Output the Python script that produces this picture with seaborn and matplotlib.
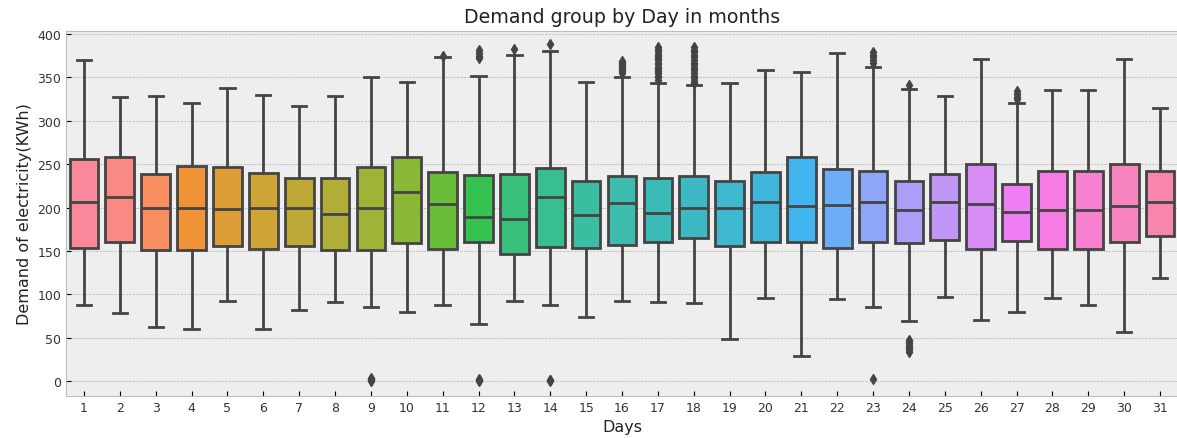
import numpy as np
import pandas as pd
import matplotlib
matplotlib.use("Agg")
import matplotlib.pyplot as plt
import seaborn as sns

days = [str(d) for d in range(1, 32)]

whisker_low = [88, 79, 63, 60, 93, 60, 82, 91, 86, 80,
               88, 66, 93, 88, 74, 93, 91, 90, 49, 96,
               29, 95, 85, 69, 97, 71, 80, 96, 88, 57, 119]
q1 = [153, 161, 151, 151, 156, 152, 156, 151, 151, 159,
      152, 161, 147, 155, 154, 157, 160, 165, 156, 160,
      160, 154, 161, 159, 163, 152, 162, 152, 152, 161, 167]
median = [207, 212, 200, 200, 198, 200, 200, 193, 200, 218,
          204, 189, 187, 212, 192, 205, 194, 200, 200, 206,
          202, 203, 207, 197, 207, 204, 195, 197, 197, 202, 207]
q3 = [256, 258, 239, 248, 247, 240, 234, 234, 247, 258,
      241, 238, 239, 246, 231, 236, 234, 236, 231, 241,
      258, 245, 242, 231, 239, 250, 227, 242, 242, 250, 242]
whisker_high = [370, 327, 329, 320, 338, 330, 317, 329, 351, 345,
                370, 352, 376, 380, 345, 351, 343, 341, 343, 358,
                356, 378, 362, 337, 329, 371, 321, 335, 335, 371, 315]
outliers = [
    [], [], [], [], [], [], [], [], [0, 1, 2, 3, 4], [],
    [374, 375], [0, 1, 2, 3, 372, 375, 378, 381], [383], [0, 1, 2, 388], [],
    [355, 357, 359, 361, 363, 365, 367, 369],
    [347, 350, 352, 355, 357, 360, 362, 365, 367, 370, 372, 375, 377, 380, 383, 385],
    [343, 346, 349, 352, 355, 358, 361, 364, 367, 370, 373, 376, 379, 382, 385],
    [], [],
    [], [], [3, 367, 370, 373, 376, 379], [34, 36, 38, 40, 42, 44, 46, 48, 341], [],
    [], [325, 328, 331, 334], [], [], [], [],
]

# Expand the read box statistics into samples that reproduce them
K = 50
rows = []
for i, d in enumerate(days):
    vals = ([whisker_low[i]] + [q1[i]] * K + [median[i]] * K + [q3[i]] * K
            + [whisker_high[i]] + list(outliers[i]))
    for v in vals:
        rows.append((d, v))
df = pd.DataFrame(rows, columns=["Day", "Demand"])
df["Day"] = pd.Categorical(df["Day"], categories=days, ordered=True)

plt.style.use("bmh")
fig = plt.figure(figsize=(11.77, 4.39), dpi=100)
ax = fig.add_axes([66 / 1177, 42.3 / 439, 1112 / 1177, 365 / 439])

line_c = "#444444"
pal = sns.husl_palette(len(days), l=.7)
sns.boxplot(data=df, x="Day", y="Demand", hue="Day", palette=pal,
            legend=False, ax=ax, linecolor=line_c, linewidth=2.0,
            width=0.8, saturation=1,
            flierprops=dict(marker="d", markerfacecolor=line_c,
                            markeredgecolor=line_c, markersize=5.5))

ax.set_ylim(-16.6, 403.8)
ax.set_xlim(-0.5, 30.5)
ax.set_title("Demand group by Day in months", fontsize=13.7, color="#222222")
ax.set_xlabel("Days", fontsize=11.5, color="#222222")
ax.set_ylabel("Demand of electricity(KWh)", fontsize=11.5, color="#222222")
ax.tick_params(axis="both", labelsize=9, labelcolor="#333333")
ax.grid(axis="x", visible=False)

fig.savefig("out.png", dpi=100)
